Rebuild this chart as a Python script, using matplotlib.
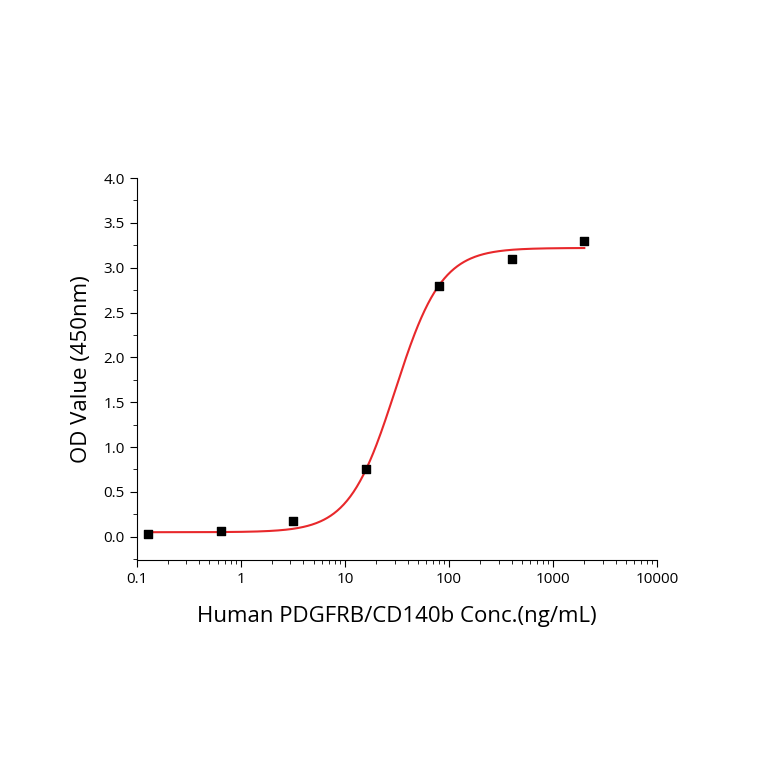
import numpy as np
import matplotlib
matplotlib.use("Agg")
import matplotlib.pyplot as plt
from matplotlib.ticker import LogLocator, NullFormatter, MultipleLocator

plt.rcParams['font.family'] = ['Open Sans', 'DejaVu Sans']

conc = [0.128, 0.64, 3.2, 16, 80, 400, 2000]
od = [0.03, 0.06, 0.17, 0.75, 2.80, 3.10, 3.30]
# 4PL fit parameters
bottom, top, ec50, hill = 0.05, 3.22, 30.5, 1.95

fig = plt.figure(figsize=(7.64, 7.64), dpi=100)
ax = fig.add_axes([0.179, 0.267, 0.681, 0.5])
xs = np.logspace(np.log10(0.128), np.log10(2000), 400)
ys = bottom + (top - bottom) / (1 + (ec50 / xs) ** hill)
ax.plot(xs, ys, color='#e8282b', lw=1.5)
ax.scatter(conc, od, marker='s', s=30, color='black', zorder=3)
ax.set_xscale('log')
ax.set_xlim(0.1, 10000)
ax.set_ylim(-0.26, 4.0)
ax.set_xticks([0.1, 1, 10, 100, 1000, 10000])
ax.set_xticklabels(['0.1', '1', '10', '100', '1000', '10000'])
ax.xaxis.set_minor_locator(LogLocator(base=10, subs=np.arange(2, 10)))
ax.xaxis.set_minor_formatter(NullFormatter())
ax.set_yticks(np.arange(0, 4.01, 0.5))
ax.set_yticklabels([f'{v:.1f}' for v in np.arange(0, 4.01, 0.5)])
ax.yaxis.set_minor_locator(MultipleLocator(0.25))
for s in ['top', 'right']:
    ax.spines[s].set_visible(False)
ax.tick_params(direction='out', labelsize=11, length=5)
ax.tick_params(which='minor', length=3)
ax.set_xlabel('Human PDGFRB/CD140b Conc.(ng/mL)', fontsize=16, labelpad=14)
ax.set_ylabel('OD Value (450nm)', fontsize=16, labelpad=8)
fig.savefig('out.png', dpi=100)
